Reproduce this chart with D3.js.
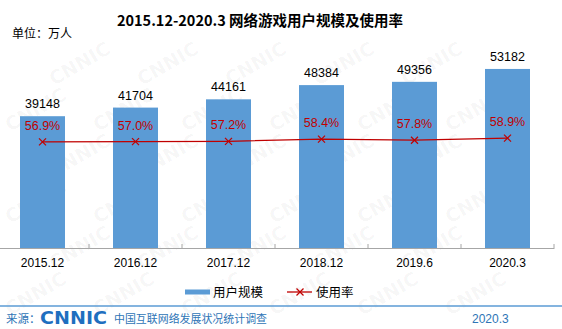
<!DOCTYPE html>
<html><head><meta charset="utf-8">
<script src="https://cdn.jsdelivr.net/npm/d3@7"></script>
<style>body{margin:0;background:#fff}svg{display:block}</style>
</head><body>
<svg id="c" width="562" height="329"></svg>
<script>
const categories = ["2015.12","2016.12","2017.12","2018.12","2019.6","2020.3"];
const users = [39148, 41704, 44161, 48384, 49356, 53182];
const rates = [56.9, 57.0, 57.2, 58.4, 57.8, 58.9];
const rateLabels = ["56.9%","57.0%","57.2%","58.4%","57.8%","58.9%"];

const svg = d3.select("#c");
const font = "'Liberation Sans', Arial, 'Noto Sans CJK SC', sans-serif";
const cjk = "'Noto Sans CJK SC', 'Liberation Sans', sans-serif";

// watermark (only fully-inside copies)
const wm = svg.append("g").attr("fill","#000").attr("fill-opacity",0.04)
  .attr("font-family","'DejaVu Sans', sans-serif").attr("font-weight","bold").attr("font-size",19);
for (let r = 0; r < 8; r++) {
  for (let c = 0; c < 8; c++) {
    const x = c*88 + (r%2)*44 + 10;
    const y = r*46 + 40;
    if (x < 2 || x + 72 > 560 || y - 40 < 2 || y + 4 > 327) continue;
    wm.append("text").attr("transform",`translate(${x},${y}) rotate(-30)`).text("CNNIC");
  }
}

const x = d3.scaleBand().domain(categories).range([-4, 554]).paddingInner(0).paddingOuter(0);
const y = d3.scaleLinear().domain([0, 60000]).range([248, 46]);
const y2 = d3.scaleLinear().domain([0, 100]).range([248, 61.5]);
const barW = 45;

// title
svg.append("text").attr("x",260).attr("y",26).attr("text-anchor","middle")
  .attr("font-family",cjk).attr("font-weight","bold").attr("font-size",14.5).attr("fill","#000")
  .text("2015.12-2020.3 网络游戏用户规模及使用率");
svg.append("text").attr("x",12).attr("y",38).attr("font-family",cjk).attr("font-size",12).attr("fill","#000")
  .text("单位：万人");

// bars
svg.append("g").selectAll("rect").data(users).join("rect")
  .attr("x",(d,i)=>x(categories[i])+x.bandwidth()/2-barW/2)
  .attr("width",barW)
  .attr("y",d=>y(d))
  .attr("height",d=>y(0)-y(d))
  .attr("fill","#5b9bd5");

svg.append("g").selectAll("text").data(users).join("text")
  .attr("x",(d,i)=>x(categories[i])+x.bandwidth()/2)
  .attr("y",d=>y(d)-8)
  .attr("text-anchor","middle").attr("font-family",font).attr("font-size",12.5).attr("fill","#000")
  .text(d=>d);

// axis
const ax = svg.append("g").attr("transform","translate(0,248)")
  .call(d3.axisBottom(x).tickSize(0).tickFormat(""));
ax.select(".domain").attr("stroke","#a6a6a6");
const tickPos = categories.map(c=>x(c)+x.bandwidth());
svg.append("g").selectAll("line").data(tickPos).join("line")
  .attr("x1",d=>d).attr("x2",d=>d).attr("y1",244).attr("y2",248).attr("stroke","#a6a6a6");
svg.append("g").selectAll("text").data(categories).join("text")
  .attr("x",d=>x(d)+x.bandwidth()/2).attr("y",267).attr("text-anchor","middle")
  .attr("font-family",font).attr("font-size",12).attr("fill","#000")
  .text(d=>d);

// line
const cx = (i)=>x(categories[i])+x.bandwidth()/2;
svg.append("path").datum(rates)
  .attr("d", d3.line().x((d,i)=>cx(i)).y(d=>y2(d)))
  .attr("fill","none").attr("stroke","#c00000").attr("stroke-width",1.3);
const mk = svg.append("g").attr("stroke","#c00000").attr("stroke-width",1.2);
rates.forEach((d,i)=>{
  const px=cx(i), py=y2(d), s=3.5;
  mk.append("line").attr("x1",px-s).attr("y1",py-s).attr("x2",px+s).attr("y2",py+s);
  mk.append("line").attr("x1",px-s).attr("y1",py+s).attr("x2",px+s).attr("y2",py-s);
});
svg.append("g").selectAll("text").data(rates).join("text")
  .attr("x",(d,i)=>cx(i)).attr("y",d=>y2(d)-12)
  .attr("text-anchor","middle").attr("font-family",font).attr("font-size",12.5).attr("fill","#c00000")
  .text((d,i)=>rateLabels[i]);

// legend
svg.append("rect").attr("x",185).attr("y",289.5).attr("width",25).attr("height",5).attr("fill","#5b9bd5");
svg.append("text").attr("x",213).attr("y",296.5).attr("font-family",cjk).attr("font-size",12.5).attr("fill","#000").text("用户规模");
svg.append("line").attr("x1",287).attr("x2",312).attr("y1",292).attr("y2",292).attr("stroke","#c00000").attr("stroke-width",1.3);
svg.append("line").attr("x1",296.5).attr("x2",303.5).attr("y1",288.5).attr("y2",295.5).attr("stroke","#c00000").attr("stroke-width",1.2);
svg.append("line").attr("x1",296.5).attr("x2",303.5).attr("y1",295.5).attr("y2",288.5).attr("stroke","#c00000").attr("stroke-width",1.2);
svg.append("text").attr("x",316).attr("y",296.5).attr("font-family",cjk).attr("font-size",12.5).attr("fill","#000").text("使用率");

// footer
svg.append("line").attr("x1",0).attr("x2",562).attr("y1",306).attr("y2",306).attr("stroke","#5b9bd5").attr("stroke-width",1.5);
svg.append("text").attr("x",6).attr("y",323).attr("font-family",cjk).attr("font-size",11.5).attr("fill","#2e75b6").text("来源：");
svg.append("text").attr("x",40).attr("y",324).attr("font-family","'DejaVu Sans', sans-serif").attr("font-weight","bold")
  .attr("font-size",18).attr("fill","#1f6fbf").attr("textLength",67).attr("lengthAdjust","spacingAndGlyphs").text("CNNIC");
svg.append("text").attr("x",114).attr("y",323).attr("font-family",cjk).attr("font-size",11).attr("fill","#2e75b6")
  .attr("textLength",153).attr("lengthAdjust","spacingAndGlyphs").text("中国互联网络发展状况统计调查");
svg.append("text").attr("x",472).attr("y",323).attr("font-family",font).attr("font-size",12).attr("fill","#2e75b6").text("2020.3");
</script>
</body></html>
